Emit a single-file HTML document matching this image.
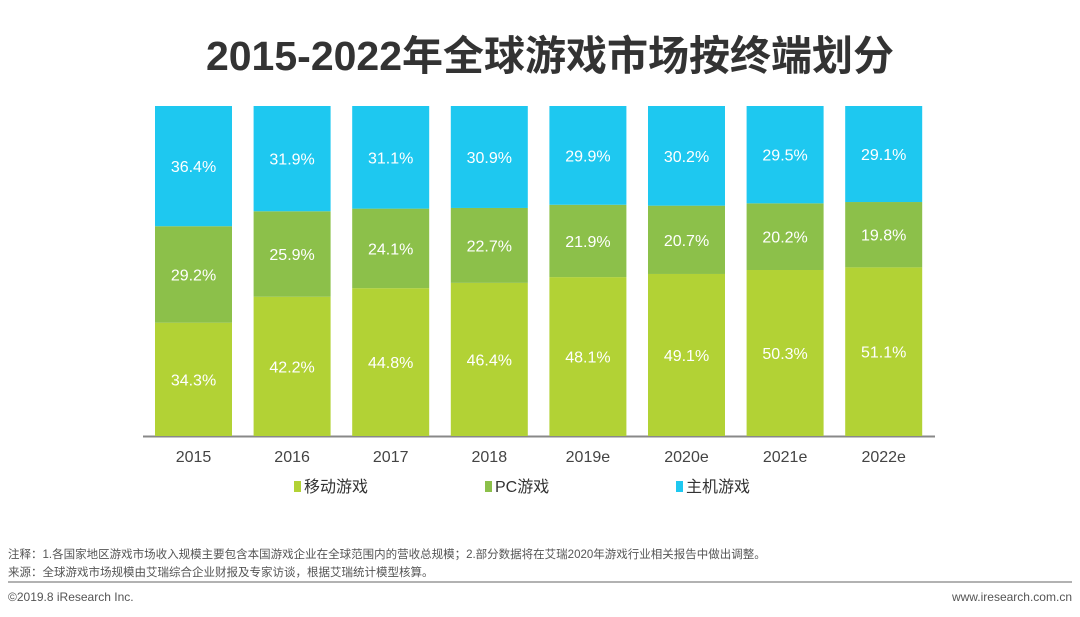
<!DOCTYPE html>
<html><head><meta charset="utf-8"><style>
body{margin:0;width:1080px;height:617px;background:#fff;overflow:hidden;font-family:"Liberation Sans","Noto Sans CJK SC",sans-serif;}
svg{display:block}
</style></head><body>
<svg id="c" width="1080" height="617">
<text x="550" y="70" text-anchor="middle" font-size="41" font-weight="bold" fill="#333" font-family="Liberation Sans,Noto Sans CJK SC,sans-serif">2015-2022年全球游戏市场按终端划分</text>
<line x1="143" y1="436.5" x2="935" y2="436.5" stroke="#888" stroke-width="2"/>
<g id="bars"></g>
<g>
<g><rect x="294" y="481" width="7" height="11" fill="#b2d235"/><text x="304" y="492" font-size="16" fill="#333">移动游戏</text></g>
<g><rect x="485" y="481" width="7" height="11" fill="#8cc04a"/><text x="495" y="492" font-size="16" fill="#333">PC游戏</text></g>
<g><rect x="676" y="481" width="7" height="11" fill="#1ec8f0"/><text x="686" y="492" font-size="16" fill="#333">主机游戏</text></g>
</g>
<text x="8" y="558" font-size="11.5" fill="#555">注释：1.各国家地区游戏市场收入规模主要包含本国游戏企业在全球范围内的营收总规模；2.部分数据将在艾瑞2020年游戏行业相关报告中做出调整。</text>
<text x="8" y="576" font-size="11.5" fill="#555">来源：全球游戏市场规模由艾瑞综合企业财报及专家访谈，根据艾瑞统计模型核算。</text>
<line x1="8" y1="582" x2="1072" y2="582" stroke="#999" stroke-width="1.5"/>
<text x="8" y="601" font-size="12" fill="#555">©2019.8 iResearch Inc.</text>
<text x="1072" y="601" font-size="12" fill="#555" text-anchor="end">www.iresearch.com.cn</text>
</svg>
<script>
const categories=["2015","2016","2017","2018","2019e","2020e","2021e","2022e"];
const mobile=[34.3,42.2,44.8,46.4,48.1,49.1,50.3,51.1];
const pc=[29.2,25.9,24.1,22.7,21.9,20.7,20.2,19.8];
const consoleV=[36.4,31.9,31.1,30.9,29.9,30.2,29.5,29.1];
(function(){
const ns="http://www.w3.org/2000/svg";
const g=document.getElementById('bars');
const x0=155,step=98.6,bw=77,base=436,plotTop=106;
function xs(i){return x0+i*step;}
function ys(v){return (base-plotTop)*v/100;}
const series=[[mobile,"#b2d235","mobile"],[pc,"#8cc04a","pc"],[consoleV,"#1ec8f0","console"]];
categories.forEach((c,i)=>{
  const tot=mobile[i]+pc[i]+consoleV[i];
  let y=base;
  series.forEach(([arr,col,nm])=>{
    const h=ys(arr[i]/tot*100);
    const r=document.createElementNS(ns,'rect');
    r.setAttribute('x',xs(i));r.setAttribute('y',y-h);r.setAttribute('width',bw);r.setAttribute('height',h);r.setAttribute('fill',col);
    
    
    g.appendChild(r);
    const t=document.createElementNS(ns,'text');
    t.setAttribute('x',xs(i)+bw/2);t.setAttribute('y',y-h/2+6);t.setAttribute('text-anchor','middle');t.setAttribute('font-size','16');t.setAttribute('fill','#fff');
    t.textContent=arr[i].toFixed(1)+'%';
    
    
    g.appendChild(t);
    y-=h;
  });
  const l=document.createElementNS(ns,'text');
  l.setAttribute('x',xs(i)+bw/2);l.setAttribute('y',462);l.setAttribute('text-anchor','middle');l.setAttribute('font-size','16');l.setAttribute('fill','#444');
  l.textContent=c;
  
  
  g.appendChild(l);
});
})();
</script>
</body></html>
